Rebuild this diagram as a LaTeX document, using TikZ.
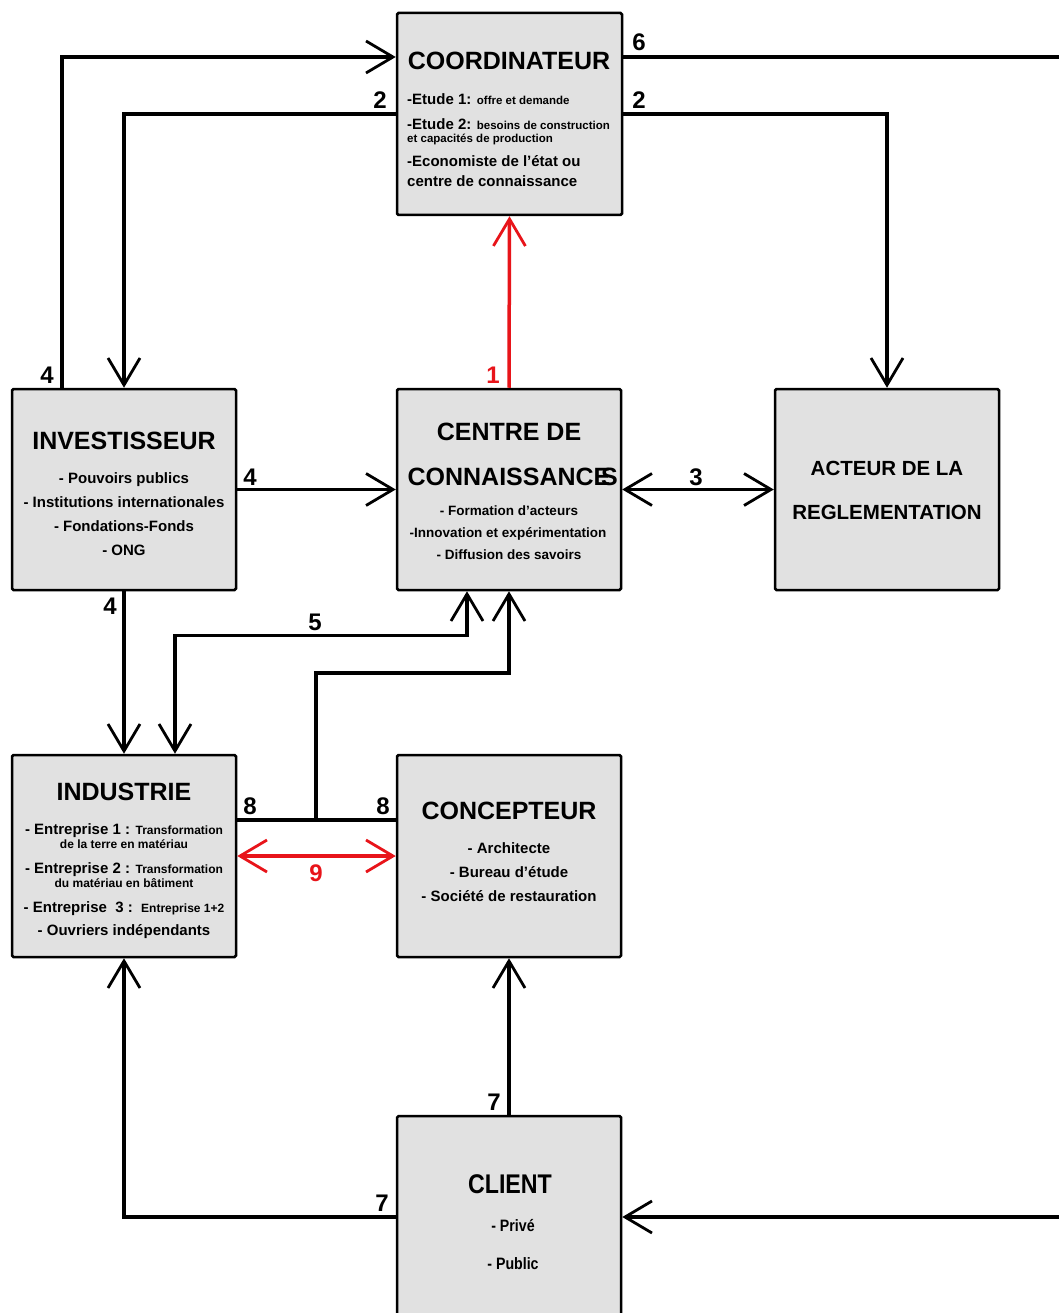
\documentclass[tikz,border=0pt]{standalone}
\usepackage{fontspec}
\setmainfont{Liberation Sans}
\newfontfamily\narrowfont[FakeStretch=0.86]{Liberation Sans}
\usetikzlibrary{arrows.meta}
\definecolor{boxgray}{HTML}{E1E1E1}
\definecolor{myred}{HTML}{E8141A}
\newcommand\smtxt{\fontsize{11.5}{13}\selectfont}
\newcommand\smind{\fontsize{12}{14}\selectfont}
\begin{document}
\begin{tikzpicture}[x=1pt,y=-1pt,
  box/.style={draw=black, fill=boxgray, line width=2.5pt, rounded corners=1.5pt, inner sep=0pt},
  conn/.style={line width=3.5pt, draw=black},
  tip/.tip={Straight Barb[length=27pt,width=32pt,line width=2.8pt]},
  arr/.style={conn, -tip},
  dbl/.style={conn, tip-tip},
  title/.style={anchor=base, inner sep=0pt, font=\bfseries\fontsize{25}{30}\selectfont},
  body/.style={anchor=base, inner sep=0pt, font=\bfseries\fontsize{15}{18}\selectfont},
  cbody/.style={anchor=base, inner sep=0pt, font=\bfseries\fontsize{13.5}{16}\selectfont},
  lbody/.style={anchor=base west, inner sep=0pt, font=\bfseries\fontsize{15}{18}\selectfont},
  lab/.style={anchor=base, inner sep=0pt, font=\bfseries\fontsize{24}{28}\selectfont},
]
\useasboundingbox (0,0) rectangle (1058,1313);
\fill[white] (0,0) rectangle (1058,1313);

% boxes
\node[box, minimum width=225pt, minimum height=202pt] (coord) at (509.5,114) {};
\node[box, minimum width=224pt, minimum height=201pt] (inv) at (124,489.5) {};
\node[box, minimum width=224pt, minimum height=201pt] (centre) at (509,489.5) {};
\node[box, minimum width=224pt, minimum height=201pt] (act) at (887,489.5) {};
\node[box, minimum width=224pt, minimum height=202pt] (ind) at (124,856) {};
\node[box, minimum width=224pt, minimum height=202pt] (conc) at (509,856) {};
\node[box, minimum width=224pt, minimum height=202pt] (client) at (509,1217) {};

% coordinates
\coordinate (redge) at (1066,57);
\coordinate (j8) at (316,820);
\coordinate (k8) at (316,673);

% connectors
\draw[arr] ([xshift=-62pt]inv.north) |- ([yshift=57pt]coord.west);
\draw[arr] (coord.west) -| (inv.north);
\draw[arr] (coord.east) -| (act.north);
\draw[arr] ([yshift=57pt]coord.east) -- (redge) |- (client.east);
\draw[arr, draw=myred] (centre.north) -- (coord.south);
\draw[arr] (inv.east) -- (centre.west);
\draw[dbl] (centre.east) -- (act.west);
\draw[arr] (inv.south) -- (ind.north);
\draw[dbl] ([xshift=-42pt]centre.south) -- ++(0,44) -| ([xshift=51pt]ind.north);
\draw[arr] (j8) -- (k8) -| (centre.south);
\draw[conn] ([yshift=36pt]ind.east) -- ([yshift=36pt]conc.west);
\draw[dbl, draw=myred] (ind.east) -- (conc.west);
\draw[arr] (client.north) -- (conc.south);
\draw[arr] (client.west) -| (ind.south);

% labels
\node[lab] (l6) at (639,51) {6};
\node[lab] (l2a) at (380,109) {2};
\node[lab] (l2b) at (639,109) {2};
\node[lab] (l4a) at (47,383) {4};
\node[lab, text=myred] (l1) at (493,383) {1};
\node[lab] (l4b) at (250,485) {4};
\node[lab] (l3) at (696,485) {3};
\node[lab] (l4c) at (110,614) {4};
\node[lab] (l5) at (315,630) {5};
\node[lab] (l8a) at (250,814) {8};
\node[lab] (l8b) at (383,814) {8};
\node[lab, text=myred] (l9) at (316,881) {9};
\node[lab] (l7a) at (494,1110) {7};
\node[lab] (l7b) at (382,1211) {7};

% COORDINATEUR text
\node[title] (tcoord) at (509,70) {COORDINATEUR};
\node[lbody] (c1) at (407,105) {-Etude 1: {\smtxt offre et demande}};
\node[lbody] (c2) at (407,130) {-Etude 2: {\smtxt besoins de construction}};
\node[lbody, font=\bfseries\smtxt] (c3) at (407,143) {et capacités de production};
\node[lbody] (c4) at (407,167) {-Economiste de l’état ou};
\node[lbody] (c5) at (407,187) {centre de connaissance};

% INVESTISSEUR text
\node[title] (tinv) at (124,449) {INVESTISSEUR};
\node[body] (i1) at (124,483) {- Pouvoirs publics};
\node[body] (i2) at (124,507) {- Institutions internationales};
\node[body] (i3) at (124,531) {- Fondations-Fonds};
\node[body] (i4) at (124,555) {- ONG};

% CENTRE text
\node[title] (tcen1) at (509,440) {CENTRE DE};
\node[title] (tcen2) at (509,485) {CONNAISSANCE};
\node[title, anchor=base west] (tcen3) at (601,485) {S};
\node[cbody] (e1) at (509,515) {- Formation d’acteurs};
\node[cbody] (e2) at (508,537) {-Innovation et expérimentation};
\node[cbody] (e3) at (509,559) {- Diffusion des savoirs};

% ACTEUR text
\node[title, font=\bfseries\fontsize{20.5}{24}\selectfont] (ta1) at (887,475) {ACTEUR DE LA};
\node[title, font=\bfseries\fontsize{20.5}{24}\selectfont] (ta2) at (887,519) {REGLEMENTATION};

% INDUSTRIE text
\node[title] (tind) at (124,800) {INDUSTRIE};
\node[body] (n1) at (124,834) {- Entreprise 1 : {\smind Transformation}};
\node[body, font=\bfseries\smind] (n2) at (124,848) {de la terre en matériau};
\node[body] (n3) at (124,873) {- Entreprise 2 : {\smind Transformation}};
\node[body, font=\bfseries\smind] (n4) at (124,887) {du matériau en bâtiment};
\node[body] (n5) at (124,912) {- Entreprise\ \ 3 :\ \ {\smind Entreprise 1+2}};
\node[body] (n6) at (124,935) {- Ouvriers indépendants};

% CONCEPTEUR text
\node[title] (tconc) at (509,819) {CONCEPTEUR};
\node[body] (p1) at (509,853) {- Architecte};
\node[body] (p2) at (509,877) {- Bureau d’étude};
\node[body] (p3) at (509,901) {- Société de restauration};

% CLIENT text
\node[title, font=\narrowfont\bfseries\fontsize{27}{30}\selectfont] (tcli) at (510,1193) {CLIENT};
\node[body, font=\narrowfont\bfseries\fontsize{16.5}{18}\selectfont] (k1) at (513,1231) {- Privé};
\node[body, font=\narrowfont\bfseries\fontsize{16.5}{18}\selectfont] (k2) at (513,1269) {- Public};
\end{tikzpicture}
\end{document}
